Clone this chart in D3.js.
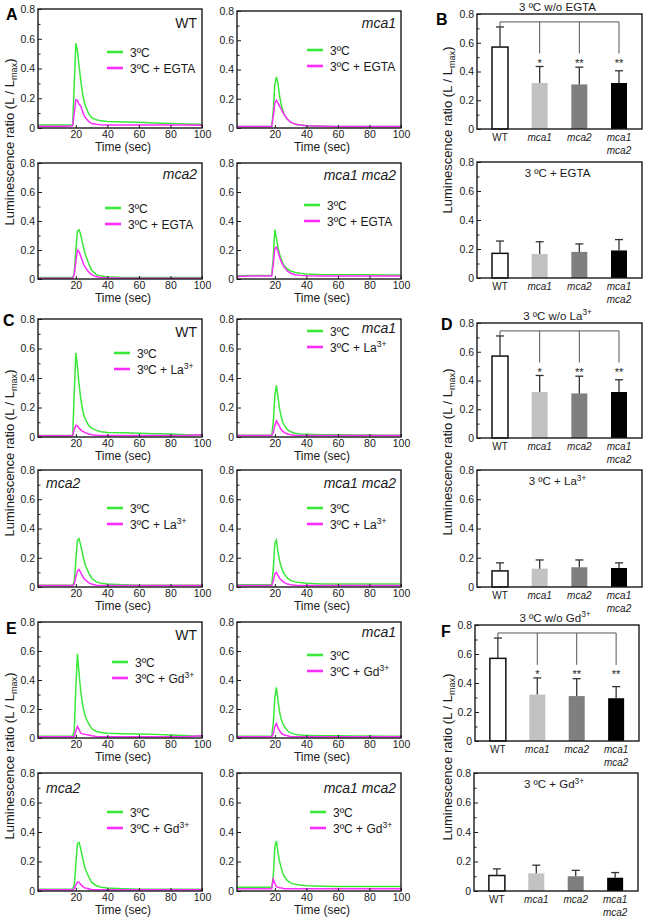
<!DOCTYPE html>
<html><head><meta charset="utf-8">
<script src="https://cdn.jsdelivr.net/npm/d3@7"></script>
<style>body{margin:0;background:#fff} svg{display:block}</style>
</head><body><svg id="fig" width="647" height="919"></svg>
<script>
// ---------------- DATA ----------------
const timeSec = [-4, 5, 15, 18, 19, 20, 21, 22, 23, 24, 25, 26, 28, 30, 33, 36, 40, 50, 60, 70, 80, 90, 100];
const timeDomain = [-4, 100];
const timeTicks = [20, 40, 60, 80, 100];
const lumTicks = [0, 0.2, 0.4, 0.6, 0.8];
const lumMinorTicks = [0.1, 0.3, 0.5, 0.7];

// Panel A (EGTA)
const A_WT_cold   = [0.02,0.02,0.02,0.02,0.30,0.57,0.52,0.42,0.33,0.25,0.19,0.15,0.10,0.07,0.055,0.048,0.043,0.040,0.038,0.033,0.030,0.027,0.025];
const A_WT_egta   = [0.012,0.012,0.012,0.015,0.10,0.19,0.185,0.16,0.15,0.12,0.09,0.07,0.045,0.03,0.025,0.022,0.02,0.02,0.02,0.02,0.02,0.02,0.018];
const A_mca1_cold = [0.01,0.01,0.01,0.01,0.12,0.30,0.35,0.30,0.22,0.16,0.12,0.09,0.06,0.04,0.025,0.02,0.015,0.012,0.01,0.01,0.01,0.01,0.01];
const A_mca1_egta = [0.01,0.01,0.01,0.01,0.08,0.17,0.19,0.17,0.15,0.13,0.11,0.09,0.06,0.04,0.025,0.02,0.015,0.012,0.01,0.01,0.01,0.01,0.01];
const A_mca2_cold = [0.01,0.01,0.01,0.01,0.04,0.20,0.33,0.34,0.31,0.26,0.21,0.17,0.11,0.06,0.03,0.02,0.015,0.01,0.01,0.01,0.01,0.01,0.01];
const A_mca2_egta = [0.005,0.005,0.005,0.005,0.03,0.12,0.20,0.19,0.16,0.13,0.10,0.08,0.05,0.03,0.015,0.01,0.008,0.006,0.005,0.005,0.005,0.005,0.005];
const A_dbl_cold  = [0.022,0.025,0.025,0.025,0.15,0.34,0.28,0.22,0.17,0.14,0.11,0.09,0.07,0.055,0.045,0.04,0.035,0.03,0.03,0.03,0.03,0.028,0.028];
const A_dbl_egta  = [0.018,0.02,0.02,0.02,0.10,0.21,0.22,0.19,0.15,0.12,0.10,0.08,0.055,0.04,0.03,0.025,0.022,0.02,0.02,0.02,0.02,0.02,0.02];

// Panel C (La3+)
const C_WT_cold   = [0.01,0.01,0.01,0.01,0.30,0.57,0.48,0.36,0.27,0.20,0.15,0.12,0.08,0.06,0.045,0.035,0.03,0.028,0.025,0.022,0.02,0.015,0.012];
const C_WT_la     = [0.008,0.008,0.008,0.01,0.05,0.08,0.075,0.06,0.05,0.04,0.035,0.03,0.02,0.015,0.012,0.01,0.01,0.01,0.01,0.01,0.01,0.01,0.015];
const C_mca1_cold = [0.012,0.012,0.012,0.012,0.10,0.28,0.35,0.27,0.19,0.14,0.10,0.08,0.05,0.035,0.025,0.02,0.018,0.015,0.015,0.013,0.013,0.012,0.012];
const C_mca1_la   = [0.01,0.01,0.01,0.01,0.03,0.08,0.11,0.09,0.07,0.05,0.04,0.03,0.02,0.015,0.012,0.01,0.01,0.01,0.01,0.01,0.01,0.01,0.01];
const C_mca2_cold = [0.012,0.012,0.012,0.012,0.04,0.18,0.32,0.33,0.29,0.24,0.19,0.15,0.10,0.06,0.035,0.025,0.02,0.015,0.012,0.012,0.012,0.012,0.012];
const C_mca2_la   = [0.01,0.01,0.01,0.01,0.02,0.07,0.11,0.12,0.10,0.08,0.06,0.05,0.03,0.02,0.012,0.01,0.01,0.01,0.01,0.01,0.01,0.01,0.01];
const C_dbl_cold  = [0.015,0.015,0.015,0.015,0.12,0.30,0.32,0.24,0.18,0.14,0.11,0.09,0.06,0.045,0.035,0.03,0.025,0.02,0.02,0.02,0.02,0.02,0.02];
const C_dbl_la    = [0.01,0.01,0.01,0.01,0.04,0.09,0.10,0.08,0.06,0.05,0.04,0.03,0.02,0.015,0.012,0.01,0.01,0.01,0.01,0.01,0.01,0.01,0.01];

// Panel E (Gd3+)
const E_WT_cold   = [0.012,0.012,0.012,0.012,0.05,0.35,0.58,0.45,0.33,0.25,0.19,0.15,0.10,0.065,0.045,0.038,0.033,0.03,0.028,0.025,0.02,0.015,0.012];
const E_WT_gd     = [0.008,0.008,0.008,0.008,0.01,0.05,0.08,0.06,0.035,0.03,0.028,0.025,0.02,0.015,0.01,0.008,0.008,0.008,0.008,0.008,0.008,0.008,0.015];
const E_mca1_cold = [0.012,0.012,0.012,0.012,0.10,0.28,0.35,0.26,0.18,0.13,0.10,0.08,0.05,0.035,0.025,0.02,0.018,0.015,0.015,0.013,0.013,0.012,0.012];
const E_mca1_gd   = [0.008,0.008,0.008,0.008,0.03,0.08,0.10,0.07,0.05,0.035,0.025,0.02,0.015,0.01,0.008,0.008,0.008,0.008,0.008,0.008,0.008,0.008,0.008];
const E_mca2_cold = [0.012,0.012,0.012,0.012,0.04,0.18,0.32,0.33,0.29,0.24,0.19,0.15,0.10,0.06,0.035,0.025,0.02,0.015,0.012,0.012,0.012,0.012,0.012];
const E_mca2_gd   = [0.008,0.008,0.008,0.008,0.015,0.04,0.06,0.06,0.045,0.035,0.025,0.02,0.015,0.01,0.008,0.008,0.008,0.008,0.008,0.008,0.008,0.008,0.008];
const E_dbl_cold  = [0.025,0.025,0.025,0.025,0.10,0.30,0.34,0.26,0.20,0.16,0.12,0.10,0.07,0.055,0.045,0.04,0.035,0.032,0.03,0.03,0.03,0.03,0.03];
const E_dbl_gd    = [0.015,0.015,0.015,0.015,0.08,0.05,0.03,0.025,0.022,0.02,0.018,0.016,0.015,0.015,0.015,0.015,0.015,0.015,0.015,0.015,0.015,0.015,0.015];

// Bar charts (B, D, F)
const genotypes = ["WT", "mca1", "mca2", "mca1 mca2"];
const sigMarks = ["", "*", "**", "**"];
const B_cold_mean = [0.57, 0.32, 0.31, 0.32];
const B_cold_err  = [0.14, 0.115, 0.12, 0.085];
const B_egta_mean = [0.17, 0.165, 0.18, 0.19];
const B_egta_err  = [0.085, 0.085, 0.055, 0.075];
const D_cold_mean = [0.57, 0.32, 0.31, 0.32];
const D_cold_err  = [0.14, 0.115, 0.12, 0.085];
const D_la_mean   = [0.11, 0.125, 0.135, 0.13];
const D_la_err    = [0.055, 0.06, 0.05, 0.035];
const F_cold_mean = [0.57, 0.32, 0.31, 0.295];
const F_cold_err  = [0.14, 0.115, 0.12, 0.08];
const F_gd_mean   = [0.105, 0.12, 0.10, 0.09];
const F_gd_err    = [0.045, 0.055, 0.04, 0.035];

// ---------------- DRAWING ----------------
const FONT = '"Liberation Sans", Arial, Helvetica, sans-serif';
const GREEN = "#3ae83a", MAGENTA = "#ff2cff", INK = "#1a1a1a";
const barFills = ["#ffffff", "#c2c2c2", "#7f7f7f", "#000000"];
const svg = d3.select("#fig");
svg.append("rect").attr("width", 647).attr("height", 919).attr("fill", "#fff");
const fmtY = d => d === 0 ? "0" : d.toFixed(1);
let clipN = 0;

function addSup(textSel, base, sup) {
  textSel.append("tspan").text(base);
  if (sup) textSel.append("tspan").attr("dy", -4.5).attr("font-size", "0.72em").text(sup);
}

function yAxisInward(g, y, x0, fs) {
  const ya = g.append("g").attr("transform", `translate(${x0},0)`)
    .call(d3.axisLeft(y).tickValues(lumTicks).tickFormat(fmtY).tickSizeInner(-4).tickSizeOuter(0).tickPadding(3));
  ya.attr("font-family", FONT).attr("font-size", fs).attr("color", INK);
  ya.select(".domain").remove();
  const ym = g.append("g").attr("transform", `translate(${x0},0)`)
    .call(d3.axisLeft(y).tickValues(lumMinorTicks).tickFormat("").tickSizeInner(-2.5).tickSizeOuter(0));
  ym.attr("color", INK);
  ym.select(".domain").remove();
}

function drawTimePanel(p) {
  const g = svg.append("g");
  const x = d3.scaleLinear().domain(timeDomain).range([p.x0, p.x1]);
  const y = d3.scaleLinear().domain([0, 0.8]).range([p.y1, p.y0]);
  const id = "clip" + (clipN++);
  svg.append("clipPath").attr("id", id).append("rect")
    .attr("x", p.x0).attr("y", p.y0).attr("width", p.x1 - p.x0).attr("height", p.y1 - p.y0);
  const line = d3.line().x((d, i) => x(timeSec[i])).y(d => y(d));
  g.append("path").datum(p.ctl).attr("d", line).attr("fill", "none")
    .attr("stroke", GREEN).attr("stroke-width", 1.5).attr("clip-path", `url(#${id})`);
  g.append("path").datum(p.trt).attr("d", line).attr("fill", "none")
    .attr("stroke", MAGENTA).attr("stroke-width", 1.5).attr("clip-path", `url(#${id})`);

  yAxisInward(g, y, p.x0, 10.5);
  const xa = g.append("g").attr("transform", `translate(0,${p.y1})`)
    .call(d3.axisBottom(x).tickValues(timeTicks).tickSizeInner(-3).tickSizeOuter(0).tickPadding(3));
  xa.attr("font-family", FONT).attr("font-size", 10.5).attr("color", INK);
  xa.select(".domain").remove();

  g.append("rect").attr("x", p.x0).attr("y", p.y0).attr("width", p.x1 - p.x0).attr("height", p.y1 - p.y0)
    .attr("fill", "none").attr("stroke", INK).attr("stroke-width", 1.4);

  // strain label
  const isEnd = p.anchor === "end";
  g.append("text").attr("x", isEnd ? p.x1 - 5 : p.x0 + 8).attr("y", p.y0 + p.ly)
    .attr("text-anchor", isEnd ? "end" : "start").attr("font-family", FONT).attr("font-size", 14)
    .attr("font-style", p.label === "WT" ? "normal" : "italic").attr("fill", INK).text(p.label);

  // legend
  const lx = p.x0 + p.lgx, ly = p.y0 + p.lgy;
  [[GREEN, "3ºC", null], [MAGENTA, "3ºC + " + p.treat, p.sup]].forEach((it, i) => {
    g.append("line").attr("x1", lx).attr("x2", lx + 16).attr("y1", ly + i * 16).attr("y2", ly + i * 16)
      .attr("stroke", it[0]).attr("stroke-width", 2.6);
    const t = g.append("text").attr("x", lx + 23).attr("y", ly + i * 16 + 4.5)
      .attr("font-family", FONT).attr("font-size", 12).attr("fill", INK);
    addSup(t, it[1], it[2]);
  });

  // x title
  g.append("text").attr("x", (p.x0 + p.x1) / 2 + 3).attr("y", p.y1 + 23).attr("text-anchor", "middle")
    .attr("font-family", FONT).attr("font-size", 12).attr("fill", INK).text("Time (sec)");
}

function drawBarPanel(p) {
  const g = svg.append("g");
  const x = d3.scalePoint().domain(genotypes).range([p.x0, p.x1]).padding(0.58);
  const y = d3.scaleLinear().domain([0, 0.8]).range([p.y1, p.y0]);
  const bw = 16;
  genotypes.forEach((gt, i) => {
    const cx = x(gt);
    const top = y(p.mean[i]);
    g.append("rect").attr("x", cx - bw / 2).attr("y", top).attr("width", bw).attr("height", p.y1 - top)
      .attr("fill", barFills[i]).attr("stroke", i === 0 ? "#111" : "none").attr("stroke-width", 1.5);
    const et = y(p.mean[i] + p.err[i]);
    g.append("line").attr("x1", cx).attr("x2", cx).attr("y1", top).attr("y2", et).attr("stroke", "#333").attr("stroke-width", 1.3);
    g.append("line").attr("x1", cx - 4).attr("x2", cx + 4).attr("y1", et).attr("y2", et).attr("stroke", "#333").attr("stroke-width", 1.3);
  });
  if (p.sig) {
    const by = y(0.745);
    g.append("line").attr("x1", x(genotypes[0])).attr("x2", x(genotypes[3])).attr("y1", by).attr("y2", by)
      .attr("stroke", "#555").attr("stroke-width", 1);
    g.append("line").attr("x1", x(genotypes[0])).attr("x2", x(genotypes[0]))
      .attr("y1", by).attr("y2", y(p.mean[0] + p.err[0])).attr("stroke", "#555").attr("stroke-width", 1);
    genotypes.slice(1).forEach((gt, j) => {
      g.append("line").attr("x1", x(gt)).attr("x2", x(gt)).attr("y1", by).attr("y2", y(0.525))
        .attr("stroke", "#555").attr("stroke-width", 1);
      g.append("text").attr("x", x(gt)).attr("y", y(0.48) + 6.5).attr("text-anchor", "middle")
        .attr("font-family", FONT).attr("font-size", 11).attr("fill", INK).text(sigMarks[j + 1]);
    });
  }
  yAxisInward(g, y, p.x0, 10.5);
  g.append("rect").attr("x", p.x0).attr("y", p.y0).attr("width", p.x1 - p.x0).attr("height", p.y1 - p.y0)
    .attr("fill", "none").attr("stroke", INK).attr("stroke-width", 1.4);
  // category labels
  genotypes.forEach((gt, i) => {
    const parts = gt.split(" ");
    parts.forEach((s, k) => {
      g.append("text").attr("x", x(gt)).attr("y", p.y1 + 12 + k * 12.5).attr("text-anchor", "middle")
        .attr("font-family", FONT).attr("font-size", 10).attr("font-style", s === "WT" ? "normal" : "italic")
        .attr("fill", INK).text(s);
    });
  });
  // title
  const t = g.append("text").attr("x", (p.x0 + p.x1) / 2 - 2).attr("y", p.inside ? p.y0 + 15 : p.y0 - 3.5)
    .attr("text-anchor", "middle").attr("font-family", FONT).attr("font-size", 11.5).attr("fill", INK);
  addSup(t, p.title, p.sup);
}

function yTitle(xc, yc) {
  const t = svg.append("text").attr("transform", `translate(${xc},${yc}) rotate(-90)`)
    .attr("text-anchor", "middle").attr("font-family", FONT).attr("font-size", 13).attr("fill", INK);
  t.append("tspan").text("Luminescence ratio (L / L");
  t.append("tspan").attr("font-size", "0.7em").attr("dy", 2.5).text("max");
  t.append("tspan").attr("dy", -2.5).text(")");
}

function letter(s, xx, yy) {
  svg.append("text").attr("x", xx).attr("y", yy).attr("font-family", FONT).attr("font-size", 16)
    .attr("font-weight", "bold").attr("fill", "#000").text(s);
}

// ---- layout ----
const C1 = [38, 202], C2 = [237, 401];
const timePanels = [
  // A
  {x0: C1[0], x1: C1[1], y0: 9,   y1: 128, ctl: A_WT_cold,   trt: A_WT_egta,   label: "WT",        anchor: "end",   ly: 19, lgx: 69, lgy: 43, treat: "EGTA"},
  {x0: C2[0], x1: C2[1], y0: 11,  y1: 128, ctl: A_mca1_cold, trt: A_mca1_egta, label: "mca1",      anchor: "end",   ly: 17, lgx: 70, lgy: 39, treat: "EGTA"},
  {x0: C1[0], x1: C1[1], y0: 163, y1: 279, ctl: A_mca2_cold, trt: A_mca2_egta, label: "mca2",      anchor: "end",   ly: 16, lgx: 67, lgy: 45, treat: "EGTA"},
  {x0: C2[0], x1: C2[1], y0: 163, y1: 279, ctl: A_dbl_cold,  trt: A_dbl_egta,  label: "mca1 mca2", anchor: "end",   ly: 17, lgx: 67, lgy: 42, treat: "EGTA"},
  // C
  {x0: C1[0], x1: C1[1], y0: 319, y1: 437, ctl: C_WT_cold,   trt: C_WT_la,     label: "WT",        anchor: "end",   ly: 18, lgx: 76, lgy: 34, treat: "La", sup: "3+"},
  {x0: C2[0], x1: C2[1], y0: 319, y1: 437, ctl: C_mca1_cold, trt: C_mca1_la,   label: "mca1",      anchor: "end",   ly: 14, lgx: 70, lgy: 12, treat: "La", sup: "3+"},
  {x0: C1[0], x1: C1[1], y0: 470, y1: 587, ctl: C_mca2_cold, trt: C_mca2_la,   label: "mca2",      anchor: "start", ly: 18, lgx: 69, lgy: 38, treat: "La", sup: "3+"},
  {x0: C2[0], x1: C2[1], y0: 470, y1: 587, ctl: C_dbl_cold,  trt: C_dbl_la,    label: "mca1 mca2", anchor: "end",   ly: 18, lgx: 70, lgy: 38, treat: "La", sup: "3+"},
  // E
  {x0: C1[0], x1: C1[1], y0: 622, y1: 738, ctl: E_WT_cold,   trt: E_WT_gd,     label: "WT",        anchor: "end",   ly: 18, lgx: 74, lgy: 40, treat: "Gd", sup: "3+"},
  {x0: C2[0], x1: C2[1], y0: 622, y1: 738, ctl: E_mca1_cold, trt: E_mca1_gd,   label: "mca1",      anchor: "end",   ly: 15, lgx: 70, lgy: 33, treat: "Gd", sup: "3+"},
  {x0: C1[0], x1: C1[1], y0: 773, y1: 891, ctl: E_mca2_cold, trt: E_mca2_gd,   label: "mca2",      anchor: "start", ly: 20, lgx: 69, lgy: 39, treat: "Gd", sup: "3+"},
  {x0: C2[0], x1: C2[1], y0: 773, y1: 891, ctl: E_dbl_cold,  trt: E_dbl_gd,    label: "mca1 mca2", anchor: "end",   ly: 20, lgx: 73, lgy: 39, treat: "Gd", sup: "3+"}
];
timePanels.forEach(drawTimePanel);

const barPanels = [
  {x0: 477, x1: 642, y0: 14,  y1: 129, mean: B_cold_mean, err: B_cold_err, sig: true,  inside: false, title: "3 ºC w/o EGTA"},
  {x0: 477, x1: 642, y0: 162, y1: 278, mean: B_egta_mean, err: B_egta_err, sig: false, inside: true,  title: "3 ºC + EGTA"},
  {x0: 477, x1: 642, y0: 323, y1: 438, mean: D_cold_mean, err: D_cold_err, sig: true,  inside: false, title: "3 ºC w/o La", sup: "3+"},
  {x0: 477, x1: 642, y0: 470, y1: 587, mean: D_la_mean,   err: D_la_err,   sig: false, inside: true,  title: "3 ºC + La", sup: "3+"},
  {x0: 475, x1: 639, y0: 625, y1: 741, mean: F_cold_mean, err: F_cold_err, sig: true,  inside: false, title: "3 ºC w/o Gd", sup: "3+"},
  {x0: 474, x1: 638, y0: 773, y1: 891, mean: F_gd_mean,   err: F_gd_err,   sig: false, inside: true,  title: "3 ºC + Gd", sup: "3+"}
];
barPanels.forEach(drawBarPanel);

yTitle(14, 142); yTitle(14, 453); yTitle(14, 756);
yTitle(452, 130); yTitle(452, 452); yTitle(452, 757);

letter("A", 6, 20); letter("B", 436, 25);
letter("C", 3, 326); letter("D", 441, 330);
letter("E", 6, 634); letter("F", 441, 637);
</script></body></html>
